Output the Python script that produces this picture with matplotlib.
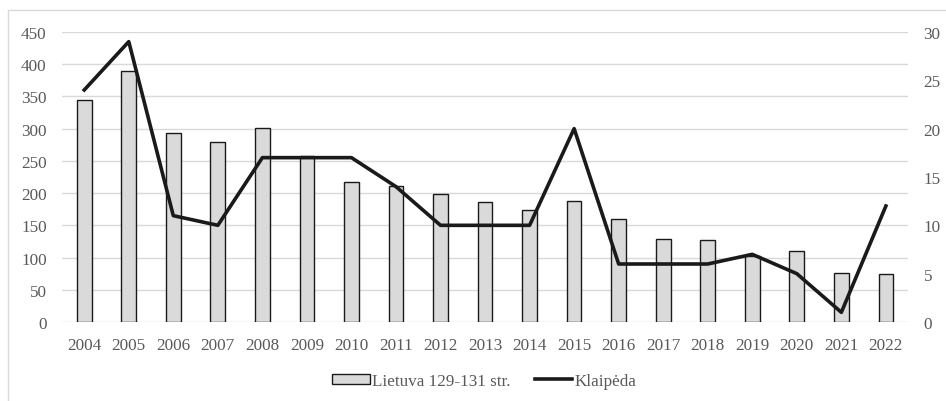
import matplotlib.pyplot as plt
from matplotlib.patches import Rectangle
import numpy as np

years = [str(y) for y in range(2004, 2023)]
lietuva = [345, 390, 293, 280, 301, 258, 217, 211, 199, 186, 174, 188, 160, 129, 128, 102, 110, 76, 75]
klaipeda = [24, 29, 11, 10, 17, 17, 17, 14, 10, 10, 10, 20, 6, 6, 6, 7, 5, 1, 12]

plt.rcParams['font.family'] = ['Liberation Serif', 'DejaVu Serif']
tick_color = '#595959'
grid_color = '#d9d9d9'

fig = plt.figure(figsize=(9.46, 4.02), dpi=100)
ax1 = fig.add_axes([0.0655, 0.1965, 0.8945, 0.7215])
ax2 = ax1.twinx()

# outer chart frame
fig.patches.append(Rectangle((8 / 946, -0.1), 1.1, 1 - 11 / 402 + 0.1, transform=fig.transFigure,
                             fill=False, edgecolor='#d9d9d9', linewidth=1))

x = np.arange(len(years))
ax1.bar(x, lietuva, width=0.33, color='#dadada', edgecolor='#1a1a1a', linewidth=1,
        label='Lietuva 129-131 str.', zorder=3)
ax2.plot(x, klaipeda, color='#1a1a1a', linewidth=2.6, label='Klaipėda', zorder=4)

ax1.set_xlim(-0.5, 18.5)
ax1.set_ylim(0, 450)
ax1.set_yticks(range(0, 451, 50))
ax2.set_ylim(0, 30)
ax2.set_yticks(range(0, 31, 5))
ax1.set_xticks(x)
ax1.set_xticklabels(years)

ax1.yaxis.grid(True, color=grid_color, linewidth=1, zorder=0)
ax1.set_axisbelow(True)
for a in (ax1, ax2):
    for s in a.spines.values():
        s.set_visible(False)
    a.tick_params(length=0, labelsize=12.3, colors=tick_color)
ax1.tick_params(axis='x', pad=11)
ax1.tick_params(axis='y', pad=11)
ax2.tick_params(axis='y', pad=11)

h1, l1 = ax1.get_legend_handles_labels()
h2, l2 = ax2.get_legend_handles_labels()
fig.legend(h1 + h2, l1 + l2, loc='center', bbox_to_anchor=(0.512, 1 - 382 / 402), ncol=2,
           frameon=False, fontsize=12.3, handlelength=2.2, handleheight=0.6,
           handletextpad=0.15, columnspacing=1.4, labelcolor=tick_color)

plt.savefig('out.png', dpi=100)
